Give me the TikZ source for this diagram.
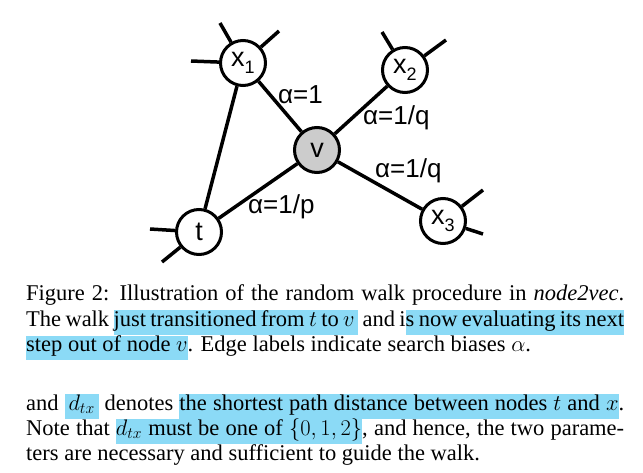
\RequirePackage{fix-cm}
\documentclass[tikz,border=0pt]{standalone}
\usepackage{fontspec}
\setmainfont{Liberation Serif}
\newfontfamily\labelfont{Liberation Sans}
\definecolor{hlblue}{RGB}{139,218,246}
\newcommand\hlstrut{\vrule height 16pt depth 8.5pt width 0pt}
\newcommand\hlb[1]{{\setlength\fboxsep{0pt}\colorbox{hlblue}{\hlstrut#1}}}
\newcommand\hls{{\color{hlblue}\leaders\vrule height 16pt depth 8.5pt\hskip\fontdimen2\font plus\fontdimen3\font minus\fontdimen4\font}}
\newcommand\sub[1]{\raisebox{-7pt}{\fontsize{18}{18}\selectfont#1}}
\begin{document}
\begin{tikzpicture}[x=1pt,y=-1pt,
    vert/.style={circle,draw,line width=3pt,minimum size=45pt,inner sep=0pt,font=\labelfont\fontsize{27}{27}\selectfont},
    link/.style={line width=3.5pt},
    lab/.style={anchor=base west,inner sep=0pt,font=\labelfont\fontsize{26}{26}\selectfont},
    txt/.style={anchor=base west,inner sep=0pt,font=\fontsize{22.5}{25.5}\selectfont}]
    \fill[white] (0,0) rectangle (643,472);
    \useasboundingbox (0,0) rectangle (643,472);
    % the walk graph
    \node[vert] (x1) at (243,63) {x\sub{1}};
    \node[vert] (x2) at (405,70) {x\sub{2}};
    \node[vert,fill=black!20] (v) at (317,150) {v};
    \node[vert] (t) at (199,232) {t};
    \node[vert] (x3) at (443,221) {x\sub{3}};
    \draw[link] (t) -- (x1) (x1) -- (v) (v) -- (t) (v) -- (x2) (v) -- (x3);
    \foreach \n/\a/\b [count=\i] in {x1/191/61, x1/220/23, x1/279/31, x2/382/32, x2/446/40,
        t/150/229, t/162/262, x3/483/190, x3/483/234}
        { \coordinate (e\i) at (\a,\b); \draw[link] (\n) -- (e\i); }
    \node[lab] (a1) at (278,103) {α=1};
    \node[lab] (a2) at (363,124) {α=1/q};
    \node[lab] (a3) at (375,177) {α=1/q};
    \node[lab] (a4) at (248,213) {α=1/p};
    % caption
    \node[txt] (c1) at (26,300.7) {\hbox to 598pt{Figure 2: Illustration of the random walk procedure in \textit{node2vec}.}};
    \node[txt] (c2) at (26,326.2) {\hbox to 598pt{The walk \hlb{just}\hls\hlb{transitioned}\hls\hlb{from}\hls\hlb{$t$}\hls\hlb{to}\hls\hlb{$v$\,} and i\hlb{s}\hls\hlb{now}\hls\hlb{evaluating}\hls\hlb{its}\hls\hlb{next}}};
    \node[txt] (c3) at (26,351.7) {\hlb{step}\hls\hlb{out}\hls\hlb{of}\hls\hlb{node}\hls\hlb{$v$}. Edge labels indicate search biases $\alpha$.};
    % body text
    \node[txt] (p1) at (26,410) {\hbox to 598pt{and \hlb{\,$d_{tx}$\,} denotes \hlb{the}\hls\hlb{shortest}\hls\hlb{path}\hls\hlb{distance}\hls\hlb{between}\hls\hlb{nodes}\hls\hlb{$t$}\hls\hlb{and}\hls\hlb{$x$}.}};
    \node[txt] (p2) at (26,435) {\hbox to 598pt{Note that \hlb{$d_{tx}$}\hls\hlb{must}\hls\hlb{be}\hls\hlb{one}\hls\hlb{of}\hls\hlb{$\{0,1,2\}$}, and hence, the two parame-}};
    \node[txt] (p3) at (26,460) {ters are necessary and sufficient to guide the walk.};
\end{tikzpicture}
\end{document}
